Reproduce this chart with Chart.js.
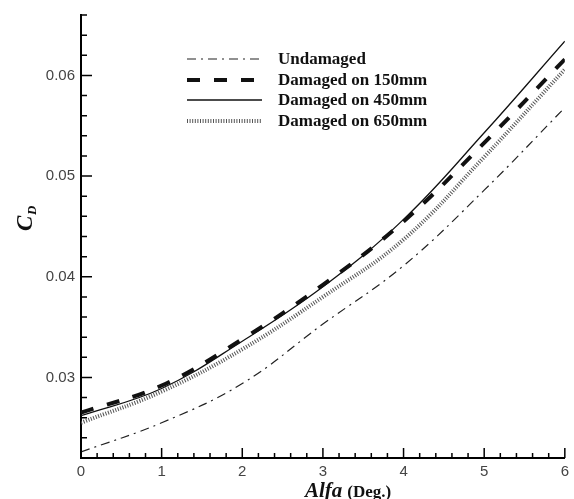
<!DOCTYPE html>
<html>
<head>
<meta charset="utf-8">
<script src="https://cdn.jsdelivr.net/npm/chart.js@4"></script>
<style>
  html, body { margin: 0; padding: 0; background: #fff; }
  #wrap { width: 574px; height: 499px; }
</style>
</head>
<body>
<div id="wrap"><canvas id="cdChart" width="574" height="499"></canvas></div>
<script>
// angle of attack (deg.)
const alfa = [0, 1, 2, 3, 4, 5, 6];

// drag coefficient
const undamaged = [0.0226, 0.0255, 0.0294, 0.0353, 0.0411, 0.0486, 0.0568];
const damaged150 = [0.0265, 0.0292, 0.0338, 0.0392, 0.0455, 0.0533, 0.0616];
const damaged450 = [0.0262, 0.0289, 0.0336, 0.0390, 0.0457, 0.0543, 0.0634];
const damaged650 = [0.0255, 0.0286, 0.0328, 0.0380, 0.0437, 0.0519, 0.0606];

const seriesNames = ['Undamaged', 'Damaged on 150mm', 'Damaged on 450mm', 'Damaged on 650mm'];

// ticks
const xMajor = [0, 1, 2, 3, 4, 5, 6];
const yMajor = [0.03, 0.04, 0.05, 0.06];

function toPoints(ys) {
    return alfa.map((a, i) => ({ x: a, y: ys[i] }));
}

function minorSteps(from, to, step) {
    const out = [];
    for (let v = from; v <= to + step / 10; v += step) out.push(Math.round(v * 10000) / 10000);
    return out;
}

const xMinor = minorSteps(0, 6, 0.2);
const yMinor = minorSteps(0.024, 0.066, 0.002);

// inward ticks, legend and axis titles
const decorPlugin = {
    id: 'decor',
    afterDatasetsDraw(chart) {
        const ctx = chart.ctx;
        const xs = chart.scales.x;
        const ys = chart.scales.y;
        const area = chart.chartArea;

        ctx.save();
        ctx.strokeStyle = '#000';
        ctx.lineWidth = 1.5;
        ctx.setLineDash([]);
        ctx.beginPath();
        xMinor.forEach(v => {
            const px = xs.getPixelForValue(v);
            const major = xMajor.some(m => Math.abs(m - v) < 1e-6);
            ctx.moveTo(px, area.bottom);
            ctx.lineTo(px, area.bottom - (major ? 10 : 5));
        });
        yMinor.forEach(v => {
            const py = ys.getPixelForValue(v);
            const major = yMajor.some(m => Math.abs(m - v) < 1e-6);
            ctx.moveTo(area.left, py);
            ctx.lineTo(area.left + (major ? 11 : 6), py);
        });
        ctx.stroke();

        // legend
        const lx0 = 187, lx1 = 262, rows = [59, 80, 100, 121];
        chart.data.datasets.forEach((ds, i) => {
            ctx.save();
            ctx.strokeStyle = ds.borderColor;
            ctx.lineWidth = ds.borderWidth;
            ctx.setLineDash(ds.borderDash || []);
            ctx.beginPath();
            ctx.moveTo(lx0, rows[i]);
            ctx.lineTo(lx1, rows[i]);
            ctx.stroke();
            ctx.restore();
            ctx.fillStyle = '#111';
            ctx.font = 'bold 17px "Liberation Serif", serif';
            ctx.textBaseline = 'middle';
            ctx.fillText(seriesNames[i], 278, rows[i] + 1);
        });

        // y title C_D
        ctx.save();
        ctx.translate(24, 218);
        ctx.rotate(-Math.PI / 2);
        ctx.fillStyle = '#111';
        ctx.textBaseline = 'alphabetic';
        ctx.font = 'italic bold 23px "Liberation Serif", serif';
        ctx.fillText('C', -13, 8);
        ctx.font = 'italic bold 13px "Liberation Serif", serif';
        ctx.fillText('D', 3, 12);
        ctx.restore();

        // x title
        ctx.fillStyle = '#111';
        ctx.textBaseline = 'alphabetic';
        ctx.font = 'italic bold 21px "Liberation Serif", serif';
        ctx.fillText('Alfa', 305, 497);
        const w = ctx.measureText('Alfa').width;
        ctx.font = 'bold 17px "Liberation Serif", serif';
        ctx.fillText('(Deg.)', 305 + w + 5, 497);
        ctx.restore();
    }
};

const ctx = document.getElementById('cdChart').getContext('2d');

const cdChart = new Chart(ctx, {
    type: 'line',
    data: {
        datasets: [
            {
                label: seriesNames[0],
                data: toPoints(undamaged),
                borderColor: '#222',
                borderWidth: 1.2,
                borderDash: [9, 5, 2, 5]
            },
            {
                label: seriesNames[1],
                data: toPoints(damaged150),
                borderColor: '#111',
                borderWidth: 4,
                borderDash: [13, 14]
            },
            {
                label: seriesNames[2],
                data: toPoints(damaged450),
                borderColor: '#111',
                borderWidth: 1.3
            },
            {
                label: seriesNames[3],
                data: toPoints(damaged650),
                borderColor: '#555',
                borderWidth: 4,
                borderDash: [1, 1.6]
            }
        ]
    },
    options: {
        responsive: false,
        animation: false,
        elements: {
            point: { radius: 0 },
            line: { tension: 0.4 }
        },
        layout: { padding: { top: 15, right: 6, left: 0, bottom: 0 } },
        plugins: {
            legend: { display: false },
            tooltip: { enabled: false }
        },
        scales: {
            x: {
                type: 'linear',
                min: 0,
                max: 6,
                afterBuildTicks: scale => { scale.ticks = xMajor.map(v => ({ value: v })); },
                afterFit: scale => { scale.height = 41; },
                grid: { display: false, drawTicks: false },
                border: { display: true, color: '#000', width: 2 },
                ticks: {
                    padding: 5,
                    color: '#444',
                    font: { family: '"Liberation Sans", Arial, sans-serif', size: 15 },
                    callback: v => String(v)
                }
            },
            y: {
                type: 'linear',
                min: 0.022,
                max: 0.066,
                afterBuildTicks: scale => { scale.ticks = yMajor.map(v => ({ value: v })); },
                afterFit: scale => { scale.width = 81; },
                grid: { display: false, drawTicks: false },
                border: { display: true, color: '#000', width: 2 },
                ticks: {
                    padding: 6,
                    color: '#444',
                    font: { family: '"Liberation Sans", Arial, sans-serif', size: 15 },
                    callback: v => v.toFixed(2)
                }
            }
        }
    },
    plugins: [decorPlugin]
});
</script>
</body>
</html>
